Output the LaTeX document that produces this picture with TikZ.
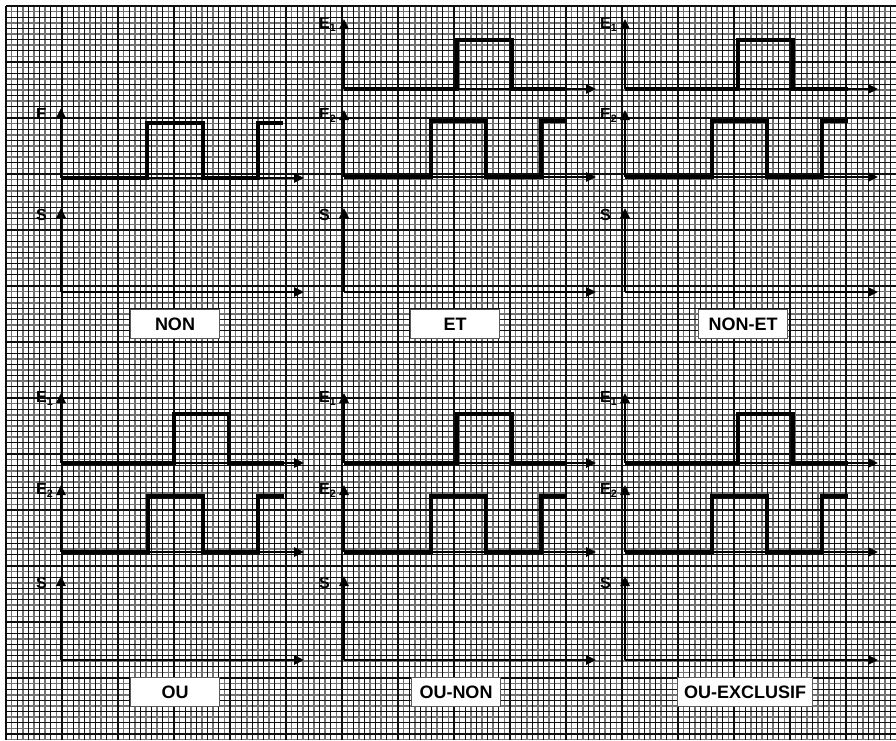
\documentclass[tikz,border=0pt]{standalone}
\usepackage{fontspec}
\setmainfont{Liberation Sans}
\usetikzlibrary{positioning,arrows.meta,calc}
\definecolor{gDark}{RGB}{15,15,15}
\definecolor{gLight}{RGB}{115,115,115}
\definecolor{edge}{RGB}{90,90,90}

\begin{document}
\begin{tikzpicture}[
  x=0.75pt, y=-0.75pt,
  >={Triangle[length=7.5pt,width=7pt]},
  axis/.style={line width=1.6pt, ->},
  wave/.style={line width=3pt, line join=miter},
  gDk/.style={draw=gDark, line width=0.8pt},
  gLt/.style={draw=gLight, line width=1.3pt},
  sig/.style={font=\fontsize{12}{13}\selectfont\bfseries, inner sep=0pt, anchor=north east},
  gate/.style={draw=edge, line width=0.8pt, fill=white, inner xsep=5pt,
    minimum width=66.75pt, minimum height=21.75pt, font=\fontsize{13.5}{15}\selectfont\bfseries}
]
\useasboundingbox (0,0) rectangle (896,740);
\fill[white] (0,0) rectangle (896,740);

% ---------------- GRID PAPER ----------------
\foreach \g in {11.6,22.8,...,896} \draw[gLt] (\g,6) -- (\g,740);
\foreach \g in {11.6,22.8,...,740} \draw[gLt] (6,\g) -- (896,\g);
\foreach \g in {6,17.2,...,896} \draw[gDk] (\g,6) -- (\g,740);
\foreach \g in {6,17.2,...,740} \draw[gDk] (6,\g) -- (896,\g);

% ---------------- NON (one input) ----------------
\coordinate (nonE) at (61,178);
\coordinate (nonS) at (61,292);
\draw[axis] (nonE) -- ++(0,-70) coordinate (nonEtip);
\draw[axis] (nonE) -- ++(243,0);
\draw[wave] (nonE) -- ++(86,0) -- ++(0,-55) -- ++(56,0) -- ++(0,55) -- ++(55,0) -- ++(0,-55) -- ++(25,0);
\node[sig] (lblE) at ([xshift=-10.5pt]nonEtip) {E};
\draw[axis] (nonS) -- ++(0,-84) coordinate (nonStip);
\draw[axis] (nonS) -- ++(243,0);
\node[sig] (lblS) at ([xshift=-10.5pt,yshift=-1pt]nonStip) {S};

% ---------------- TWO-INPUT GATES ----------------
\foreach \ox/\len/\ya/\yb/\ys/\nm in {344/252/89/177/292/et, 625/253/89/177/292/nonet,
    61/243/463/552/660/ou, 344/252/463/552/660/ounon, 625/253/463/552/660/xor} {
  \coordinate (\nm E1) at (\ox,\ya);
  \coordinate (\nm E2) at (\ox,\yb);
  \coordinate (\nm S) at (\ox,\ys);
  % E1
  \draw[axis] (\nm E1) -- ++(0,-70) coordinate (\nm E1tip);
  \draw[axis] (\nm E1) -- ++(\len,0);
  \draw[wave] (\nm E1) -- ++(113,0) -- ++(0,-49) -- ++(55,0) -- ++(0,49) -- ++(55,0);
  \node[sig] at ([xshift=-5.5pt,yshift=1pt]\nm E1tip) {E\textsubscript{1}};
  % E2
  \draw[axis] (\nm E2) -- ++(0,-67) coordinate (\nm E2tip);
  \draw[axis] (\nm E2) -- ++(\len,0);
  \draw[wave] (\nm E2) -- ++(87,0) -- ++(0,-56) -- ++(55,0) -- ++(0,56) -- ++(55,0) -- ++(0,-56) -- ++(26,0);
  \node[sig] at ([xshift=-5.5pt,yshift=1pt]\nm E2tip) {E\textsubscript{2}};
  % S
  \draw[axis] (\nm S) -- ++(0,-84) coordinate (\nm Stip);
  \draw[axis] (\nm S) -- ++(\len,0);
  \node[sig] at ([xshift=-10.5pt,yshift=-1pt]\nm Stip) {S};
}

% ---------------- GATE NAMES ----------------
\node[gate] (gNon)   at (175,324) {NON};
\node[gate] (gEt)    at (455,324) {ET};
\node[gate] (gNonEt) at (743,324) {NON-ET};
\node[gate] (gOu)    at (175,692) {OU};
\node[gate] (gOuNon) at (456,692) {OU-NON};
\node[gate] (gXor)   at (745,692) {OU-EXCLUSIF};

\end{tikzpicture}
\end{document}
